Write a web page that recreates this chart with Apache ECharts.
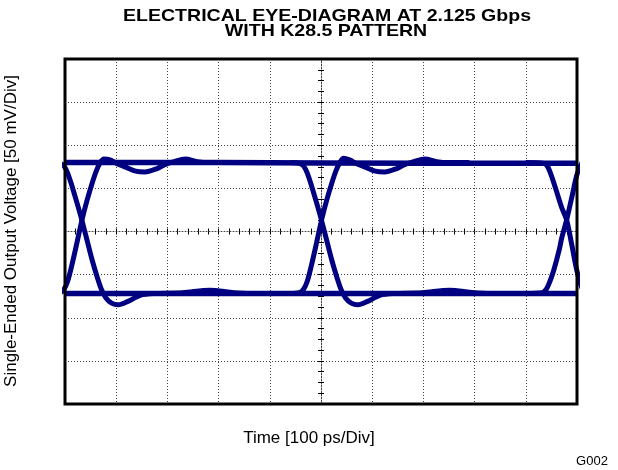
<!DOCTYPE html>
<html>
<head>
<meta charset="utf-8">
<script src="https://cdn.jsdelivr.net/npm/echarts@6/dist/echarts.min.js"></script>
<style>
  html, body { margin: 0; padding: 0; background: #fff; }
  #main { width: 618px; height: 470px; }
</style>
</head>
<body>
<div id="main"></div>
<script>
// time in ps (100 ps/div), voltage in mV (50 mV/div)
var timeRange = [0, 1000];
var voltRange = [-200, 200];

// steady levels
var highLevel = [[0, 80], [300, 80], [700, 79], [1000, 79]];
var lowLevel = [[0, -72], [300, -72], [700, -72], [1000, -72]];

// edges around the first crossing
var rise1 = [[-40, -72], [-10, -71], [-2, -67], [5, -58], [13, -40], [23, -14], [33, 13], [43, 36], [53, 56], [61, 70], [68, 79], [76, 84],
  [88, 83], [101, 79], [121, 74], [138, 70], [156, 69], [180, 73], [193, 77], [213, 81], [235, 84], [258, 81], [283, 80], [320, 80]];
var fall1 = [[-40, 80], [-10, 79], [-2, 76], [5, 68], [13, 54], [23, 34], [33, 13], [43, -10], [53, -33], [63, -53], [71, -67], [80, -77],
  [91, -83], [104, -85], [123, -81], [147, -74], [173, -72], [230, -71], [283, -68], [330, -71], [370, -72]];

// edges around the centre crossing
var rise2 = [[440, -72], [458, -71], [466, -67], [473, -58], [481, -40], [491, -14], [501, 13], [511, 36], [521, 56], [529, 70], [536, 79], [544, 85],
  [556, 83], [569, 79], [589, 74], [606, 70], [624, 69], [648, 73], [661, 77], [681, 81], [703, 84], [726, 81], [751, 80], [790, 80]];
var fall2 = [[440, 80], [458, 79], [466, 76], [473, 68], [481, 54], [491, 34], [501, 13], [511, -10], [521, -33], [531, -53], [539, -67], [548, -77],
  [559, -83], [572, -85], [591, -81], [615, -74], [641, -72], [698, -71], [751, -68], [798, -71], [840, -72]];

// edges at the right border
var rise3 = [[900, -72], [932, -71], [940, -67], [947, -58], [955, -44], [965, -22], [970, -8], [980, 14], [990, 40], [1000, 66], [1010, 80], [1020, 85]];
var fall3 = [[900, 80], [935, 79], [942, 76], [948, 68], [955, 56], [965, 37], [970, 28], [980, 13], [990, -16], [1000, -46], [1010, -66], [1020, -76]];

var traceColor = '#000080';
var gridBox = { left: 65, top: 59, width: 512, height: 345 };

var myChart = echarts.init(document.getElementById('main'));

function trace(data, w) {
  return {
    type: 'line',
    data: data,
    smooth: 0.3,
    showSymbol: false,
    symbol: 'none',
    clip: true,
    silent: true,
    lineStyle: { color: traceColor, width: w },
    z: 5
  };
}

var dotted = { color: '#444', width: 1, type: [1, 2] };

function hiddenAxis(extra) {
  var a = {
    type: 'value',
    axisLabel: { show: false },
    splitLine: { show: false },
    axisLine: { show: false },
    axisTick: { show: false }
  };
  for (var k in extra) a[k] = extra[k];
  return a;
}

var option = {
  animation: false,
  backgroundColor: '#fff',
  grid: {
    left: gridBox.left, top: gridBox.top, width: gridBox.width, height: gridBox.height,
    containLabel: false
  },
  xAxis: [
    hiddenAxis({ min: timeRange[0], max: timeRange[1], interval: 100, position: 'bottom',
      splitLine: { show: true, lineStyle: dotted } }),
    hiddenAxis({ min: timeRange[0], max: timeRange[1], interval: 100, position: 'bottom', offset: -gridBox.height / 2,
      axisLine: { show: true, onZero: false, lineStyle: dotted },
      axisTick: { show: true, length: 3, lineStyle: { color: '#000' } },
      minorTick: { show: true, splitNumber: 5, length: 3, lineStyle: { color: '#000' } } }),
    hiddenAxis({ min: timeRange[0], max: timeRange[1], interval: 100, position: 'top', offset: -gridBox.height / 2,
      axisLine: { show: false, onZero: false },
      axisTick: { show: true, length: 3, lineStyle: { color: '#000' } },
      minorTick: { show: true, splitNumber: 5, length: 3, lineStyle: { color: '#000' } } })
  ],
  yAxis: [
    hiddenAxis({ min: voltRange[0], max: voltRange[1], interval: 50, position: 'left',
      splitLine: { show: true, lineStyle: dotted } }),
    hiddenAxis({ min: voltRange[0], max: voltRange[1], interval: 50, position: 'left', offset: -gridBox.width / 2,
      axisLine: { show: true, onZero: false, lineStyle: dotted },
      axisTick: { show: true, length: 3, lineStyle: { color: '#000' } },
      minorTick: { show: true, splitNumber: 4, length: 3, lineStyle: { color: '#000' } } }),
    hiddenAxis({ min: voltRange[0], max: voltRange[1], interval: 50, position: 'right', offset: -gridBox.width / 2,
      axisLine: { show: false, onZero: false },
      axisTick: { show: true, length: 3, lineStyle: { color: '#000' } },
      minorTick: { show: true, splitNumber: 4, length: 3, lineStyle: { color: '#000' } } })
  ],
  series: [
    trace(highLevel, 5.5),
    trace(lowLevel, 5.5),
    trace(rise1, 5),
    trace(fall1, 5),
    trace(rise2, 5),
    trace(fall2, 5),
    trace(rise3, 5),
    trace(fall3, 5)
  ],
  graphic: [
    { type: 'rect', z: 100, silent: true,
      shape: { x: gridBox.left, y: gridBox.top, width: gridBox.width, height: gridBox.height },
      style: { fill: null, stroke: '#000', lineWidth: 3 } },
    { type: 'text', z: 100, x: 327, y: 16, scaleX: 1.15,
      style: { text: 'ELECTRICAL EYE-DIAGRAM AT 2.125 Gbps', align: 'center', verticalAlign: 'middle',
        font: 'bold 17px "Liberation Sans", Arial, sans-serif', fill: '#000' } },
    { type: 'text', z: 100, x: 326, y: 31, scaleX: 1.15,
      style: { text: 'WITH K28.5 PATTERN', align: 'center', verticalAlign: 'middle',
        font: 'bold 17px "Liberation Sans", Arial, sans-serif', fill: '#000' } },
    { type: 'text', z: 100, x: 11, y: 231, rotation: Math.PI / 2,
      style: { text: 'Single-Ended Output Voltage [50 mV/Div]', align: 'center', verticalAlign: 'middle',
        font: '17px "Liberation Sans", Arial, sans-serif', fill: '#000' } },
    { type: 'text', z: 100, x: 309, y: 438,
      style: { text: 'Time [100 ps/Div]', align: 'center', verticalAlign: 'middle',
        font: '17px "Liberation Sans", Arial, sans-serif', fill: '#000' } },
    { type: 'text', z: 100, x: 592, y: 461,
      style: { text: 'G002', align: 'center', verticalAlign: 'middle',
        font: '13px "Liberation Sans", Arial, sans-serif', fill: '#000' } }
  ]
};

myChart.setOption(option);
</script>
</body>
</html>
